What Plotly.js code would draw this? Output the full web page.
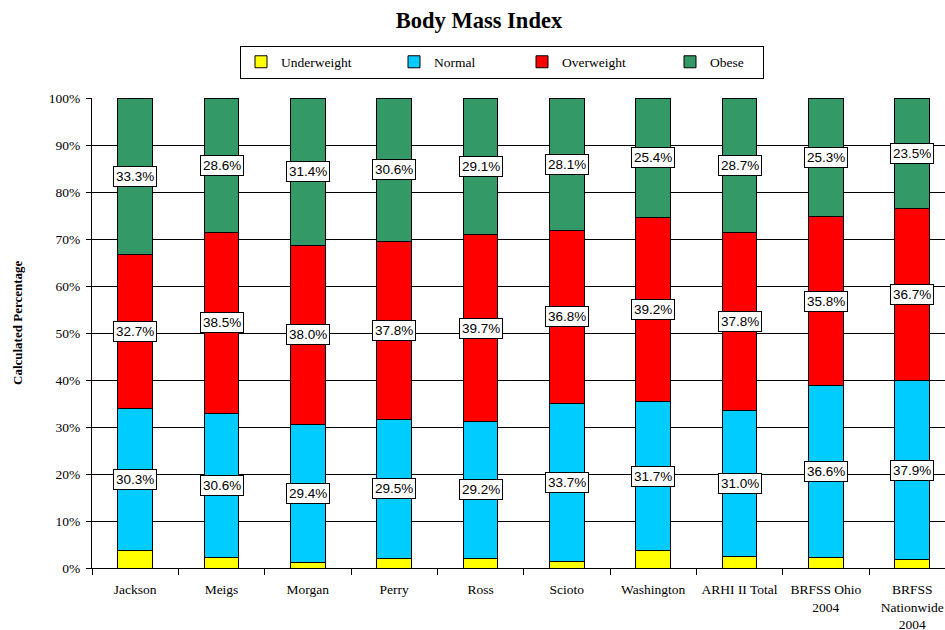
<!DOCTYPE html>
<html><head><meta charset="utf-8">
<script src="https://cdn.plot.ly/plotly-3.0.1.min.js"></script>
<style>body{margin:0;padding:0;background:#fff}#chart{width:945px;height:630px}</style>
</head><body><div id="chart"></div>
<script>
const categories = ["Jackson","Meigs","Morgan","Perry","Ross","Scioto","Washington","ARHI II Total","BRFSS Ohio<br>2004","BRFSS<br>Nationwide<br>2004"];
const underweight = [3.7,2.3,1.2,2.1,2.0,1.4,3.7,2.5,2.3,1.9];
const normal = [30.3,30.6,29.4,29.5,29.2,33.7,31.7,31.0,36.6,37.9];
const overweight = [32.7,38.5,38.0,37.8,39.7,36.8,39.2,37.8,35.8,36.7];
const obese = [33.3,28.6,31.4,30.6,29.1,28.1,25.4,28.7,25.3,23.5];
const yTicks = [0,10,20,30,40,50,60,70,80,90,100];

const serif = "Liberation Serif, Times New Roman, serif";
const series = [
  {name:"Underweight", y:underweight, color:"#FFFF00", lw:108},
  {name:"Normal", y:normal, color:"#00CCFF", lw:83},
  {name:"Overweight", y:overweight, color:"#FF0000", lw:103},
  {name:"Obese", y:obese, color:"#339966", lw:48}
];
const traces = series.map(s => ({
  type:"bar", name:s.name, x:categories, y:s.y,
  marker:{color:s.color, line:{color:"#000", width:1}},
  width:0.4, hoverinfo:"skip", legendwidth:s.lw
}));

const annotations = [];
categories.forEach((c,i) => {
  let base = 0;
  series.forEach((s,k) => {
    const v = s.y[i];
    if (k > 0) {
      annotations.push({
        x:c, y:base + v/2, xref:"x", yref:"y", text:v.toFixed(1)+"%", showarrow:false,
        font:{family:"Liberation Sans, Arial, sans-serif", size:13.5, color:"#000"},
        bgcolor:"#fff", bordercolor:"#000", borderwidth:1, borderpad:2
      });
    }
    base += v;
  });
});
annotations.push({
  text:"<b>Calculated Percentage</b>", textangle:-90, showarrow:false,
  xref:"paper", yref:"paper", x:(17-92)/853, y:(568-323)/470, xanchor:"center", yanchor:"middle",
  font:{family:serif, size:13, color:"#000"}
});

const layout = {
  width:945, height:630,
  margin:{l:92, r:0, t:98, b:62},
  paper_bgcolor:"#fff", plot_bgcolor:"#fff",
  barmode:"stack", bargap:0.6,
  title:{text:"<b>Body Mass Index</b>", x:479/945, xref:"container", xanchor:"center", y:1-20/630, yref:"container", yanchor:"middle",
    font:{family:serif, size:22.5, color:"#000"}},
  font:{family:serif, size:13.5, color:"#000"},
  showlegend:true,
  legend:{orientation:"h", xref:"container", yref:"container", x:240/945, xanchor:"left",
    y:1-62/630, yanchor:"middle", bordercolor:"#000", borderwidth:1, bgcolor:"#fff",
    traceorder:"normal", itemwidth:30,
    font:{family:serif, size:13.5, color:"#000"}},
  xaxis:{type:"category", range:[-0.5, 9.38], showline:true, linecolor:"#000", linewidth:1,
    ticks:"outside", tickson:"boundaries", ticklen:6, tickcolor:"#000", showgrid:false,
    ticklabelstandoff:9,
    tickfont:{family:serif, size:13.5, color:"#000"}, tickangle:0},
  yaxis:{range:[0,100], tickvals:yTicks, ticktext:yTicks.map(v=>v+"%"), showline:true,
    linecolor:"#000", linewidth:1, ticks:"outside", ticklen:5, tickcolor:"#000",
    showgrid:true, gridcolor:"#000", gridwidth:1, zeroline:false, ticklabelstandoff:3,
    tickfont:{family:serif, size:13.5, color:"#000"}},
  annotations:annotations
};
Plotly.newPlot("chart", traces, layout, {staticPlot:true, displayModeBar:false});
</script></body></html>
